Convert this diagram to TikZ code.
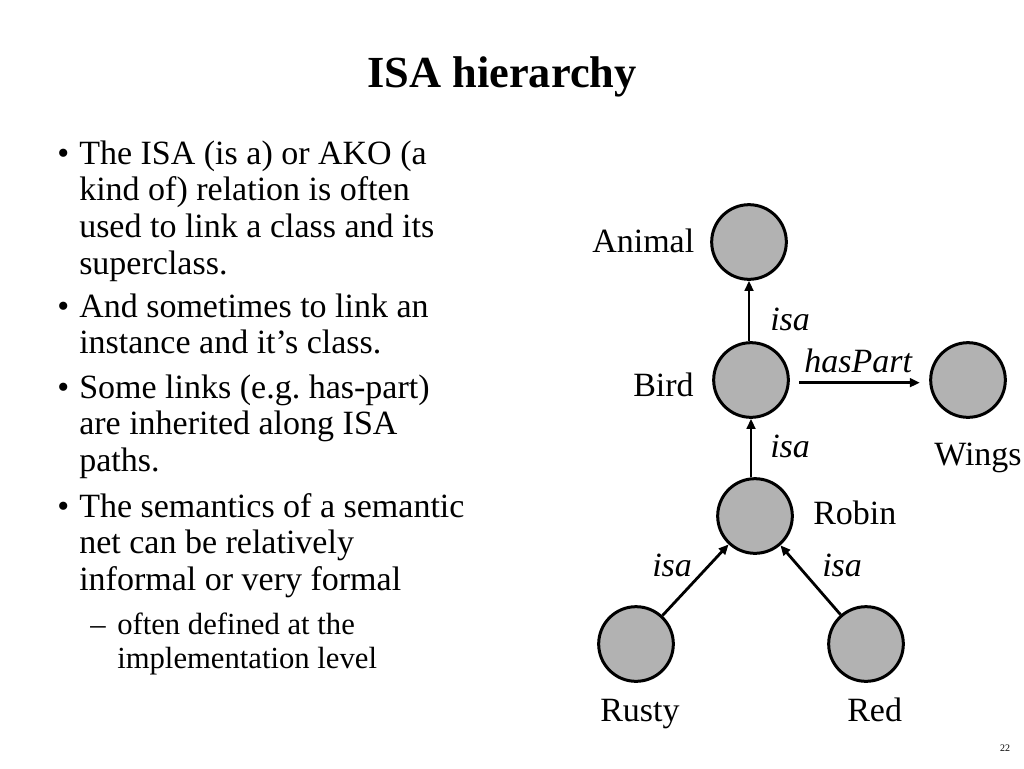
\documentclass[tikz,border=0pt]{standalone}
\usepackage{fontspec}
\setmainfont{Liberation Serif}
\usetikzlibrary{arrows.meta}
\definecolor{nodegray}{HTML}{B2B2B2}
\begin{document}
\frenchspacing
\begin{tikzpicture}[x=0.75pt,y=-0.75pt,
  ent/.style={circle,draw=black,fill=nodegray,line width=2.25pt,minimum size=56pt,inner sep=0pt},
  lbl/.style={anchor=base west,inner sep=0pt,font=\fontsize{25.5}{30}\selectfont},
  rel/.style={anchor=base west,inner sep=0pt,font=\fontsize{25.5}{30}\selectfont\itshape},
  bodyline/.style={anchor=base west,inner sep=0pt,font=\fontsize{25.5}{30}\selectfont},
  subline/.style={anchor=base west,inner sep=0pt,font=\fontsize{23}{27}\selectfont},
  isa/.style={line width=2.1pt,-{Triangle[length=7.5pt,width=6.5pt]}}]
\useasboundingbox (0,0) rectangle (1024,768);
% title
\node[anchor=base,inner sep=0pt,font=\fontsize{33.3}{40}\selectfont\bfseries] (title) at (502,87) {ISA hierarchy};
% bullets
\node[bodyline] (d1) at (57,164) {•};
\node[bodyline] (t1a) at (79,164) {The ISA (is a) or AKO (a};
\node[bodyline] (t1b) at (79,200.7) {kind of) relation is often};
\node[bodyline] (t1c) at (79,237.4) {used to link a class and its};
\node[bodyline] (t1d) at (79,274.1) {superclass.};
\node[bodyline] (d2) at (57,317) {•};
\node[bodyline] (t2a) at (79,317) {And sometimes to link an};
\node[bodyline] (t2b) at (79,353.7) {instance and it’s class.};
\node[bodyline] (d3) at (57,398) {•};
\node[bodyline] (t3a) at (79,398) {Some links (e.g. has-part)};
\node[bodyline] (t3b) at (79,434.7) {are inherited along ISA};
\node[bodyline] (t3c) at (79,471.4) {paths.};
\node[bodyline] (d4) at (57,517) {•};
\node[bodyline] (t4a) at (79,517) {The semantics of a semantic};
\node[bodyline] (t4b) at (79,553.7) {net can be relatively};
\node[bodyline] (t4c) at (79,590.4) {informal or very formal};
\node[subline] (d5) at (90,634) {–};
\node[subline] (t5a) at (117,634) {often defined at the};
\node[subline] (t5b) at (117,668) {implementation level};
% diagram
\node[ent] (animal) at (749,242) {};
\node[ent] (bird) at (751,380) {};
\node[ent] (wings) at (968,380) {};
\node[ent] (robin) at (755,516) {};
\node[ent] (rusty) at (636,644) {};
\node[ent] (red) at (866,644) {};
\draw[isa] (bird.north -| animal) -- (animal);
\draw[isa] (robin.north -| bird) -- (bird);
\draw[isa] (rusty) -- (robin);
\draw[isa] (red) -- (robin);
\draw[isa,shorten <=7pt,shorten >=7pt] ([yshift=-2pt]bird.east) -- ([yshift=-2pt]wings.west);
% labels
\node[lbl] (lanimal) at (592,252) {Animal};
\node[lbl] (lbird) at (633,396) {Bird};
\node[lbl] (lwings) at (934,465) {Wings};
\node[lbl] (lrobin) at (813,524) {Robin};
\node[lbl] (lrusty) at (600,721) {Rusty};
\node[lbl] (lred) at (847,721) {Red};
\node[rel] (r1) at (770,330) {isa};
\node[rel] (r2) at (770,457) {isa};
\node[rel] (r3) at (652,576) {isa};
\node[rel] (r4) at (822,576) {isa};
\node[rel] (r5) at (804,372) {hasPart};
\node[inner sep=0pt,font=\fontsize{7.5}{9}\selectfont] (pg) at (1005,748) {22};
\end{tikzpicture}
\end{document}
